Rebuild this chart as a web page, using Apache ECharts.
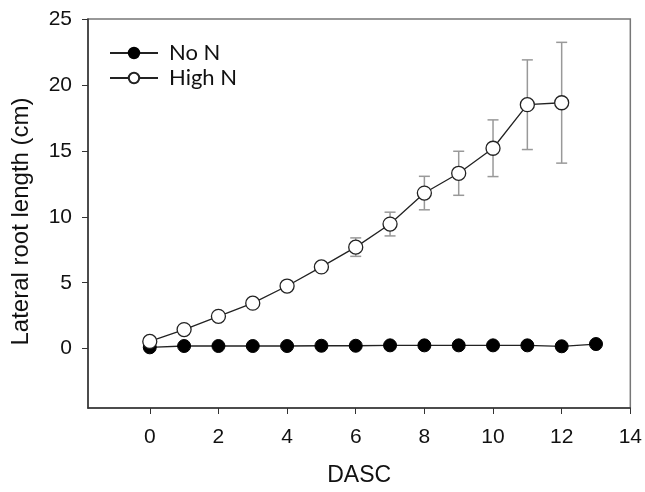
<!DOCTYPE html>
<html><head><meta charset="utf-8">
<script src="https://cdn.jsdelivr.net/npm/echarts@6/dist/echarts.min.js"></script>
<style>html,body{margin:0;padding:0;background:#fff}#c{width:645px;height:492px}</style>
</head><body><div id="c"></div>
<script>
const days = [0,1,2,3,4,5,6,7,8,9,10,11,12,13];
const noN = [0.1,0.2,0.2,0.2,0.2,0.22,0.22,0.25,0.25,0.25,0.25,0.25,0.18,0.35];
const highNDays = [0,1,2,3,4,5,6,7,8,9,10,11,12];
const highN = [0.55,1.45,2.45,3.45,4.75,6.2,7.7,9.45,11.8,13.3,15.2,18.5,18.65];
const highNErr = [0,0,0,0,0,0.25,0.7,0.9,1.27,1.67,2.15,3.4,4.58];
const xTicks = [0,2,4,6,8,10,12,14];
const yTicks = [0,5,10,15,20,25];

const chart = echarts.init(document.getElementById('c'), null, {renderer:'canvas'});
const font = 'Liberation Sans';
const errData = highNDays.map((d,i)=>[d, highN[i]-highNErr[i], highN[i]+highNErr[i]]).filter((r,i)=>highNErr[i]>0);

chart.setOption({
  animation:false,
  backgroundColor:'#fff',
  grid:{left:88, right:14, top:19, bottom:84, show:true, borderColor:'#777', borderWidth:1.5, backgroundColor:'transparent'},
  legend:{
    orient:'vertical', left:104, top:37, itemWidth:48, itemHeight:13, itemGap:3,
    data:['No N','High N'],
    textStyle:{fontFamily:'Lato', fontSize:22, color:'#111', lineHeight:22, padding:[0,0,0,6]}
  },
  xAxis:{
    type:'value', min:-1.8, max:14,
    name:'DASC', nameLocation:'middle', nameGap:56,
    nameTextStyle:{fontFamily:font, fontSize:23, color:'#111'},
    axisLine:{onZero:false, lineStyle:{color:'#333', width:1.5}},
    axisTick:{show:true, length:6, customValues:xTicks, lineStyle:{color:'#333'}},
    axisLabel:{customValues:xTicks, fontFamily:font, fontSize:21, color:'#111', margin:19},
    splitLine:{show:false}
  },
  yAxis:{
    type:'value', min:-4.5, max:25,
    name:'Lateral root length (cm)', nameLocation:'middle', nameGap:55,
    nameTextStyle:{fontFamily:font, fontSize:24, color:'#111', padding:[0,16,0,0]},
    axisLine:{onZero:false, lineStyle:{color:'#333', width:1.5}},
    axisTick:{show:true, length:6, customValues:yTicks, lineStyle:{color:'#333'}},
    axisLabel:{customValues:yTicks, fontFamily:font, fontSize:21, color:'#111', margin:16},
    splitLine:{show:false}
  },
  series:[
    {
      name:'errors', type:'custom', z:1, silent:true,
      data:errData,
      renderItem:function(params, api){
        const x = api.value(0);
        const lo = api.coord([x, api.value(1)]);
        const hi = api.coord([x, api.value(2)]);
        const w = 5.5;
        const st = {stroke:'#999', lineWidth:1.5};
        return {type:'group', children:[
          {type:'line', shape:{x1:lo[0], y1:lo[1], x2:hi[0], y2:hi[1]}, style:st},
          {type:'line', shape:{x1:lo[0]-w, y1:lo[1], x2:lo[0]+w, y2:lo[1]}, style:st},
          {type:'line', shape:{x1:hi[0]-w, y1:hi[1], x2:hi[0]+w, y2:hi[1]}, style:st}
        ]};
      }
    },
    {
      name:'No N', type:'line', z:3,
      data:days.map((d,i)=>[d,noN[i]]),
      symbol:'circle', symbolSize:13,
      lineStyle:{color:'#222', width:1.3},
      itemStyle:{color:'#000', borderColor:'#000', borderWidth:1}
    },
    {
      name:'High N', type:'line', z:4,
      data:highNDays.map((d,i)=>[d,highN[i]]),
      symbol:'circle', symbolSize:14,
      lineStyle:{color:'#222', width:1.3},
      itemStyle:{color:'#fff', borderColor:'#222', borderWidth:1.3}
    }
  ]
});
</script></body></html>
